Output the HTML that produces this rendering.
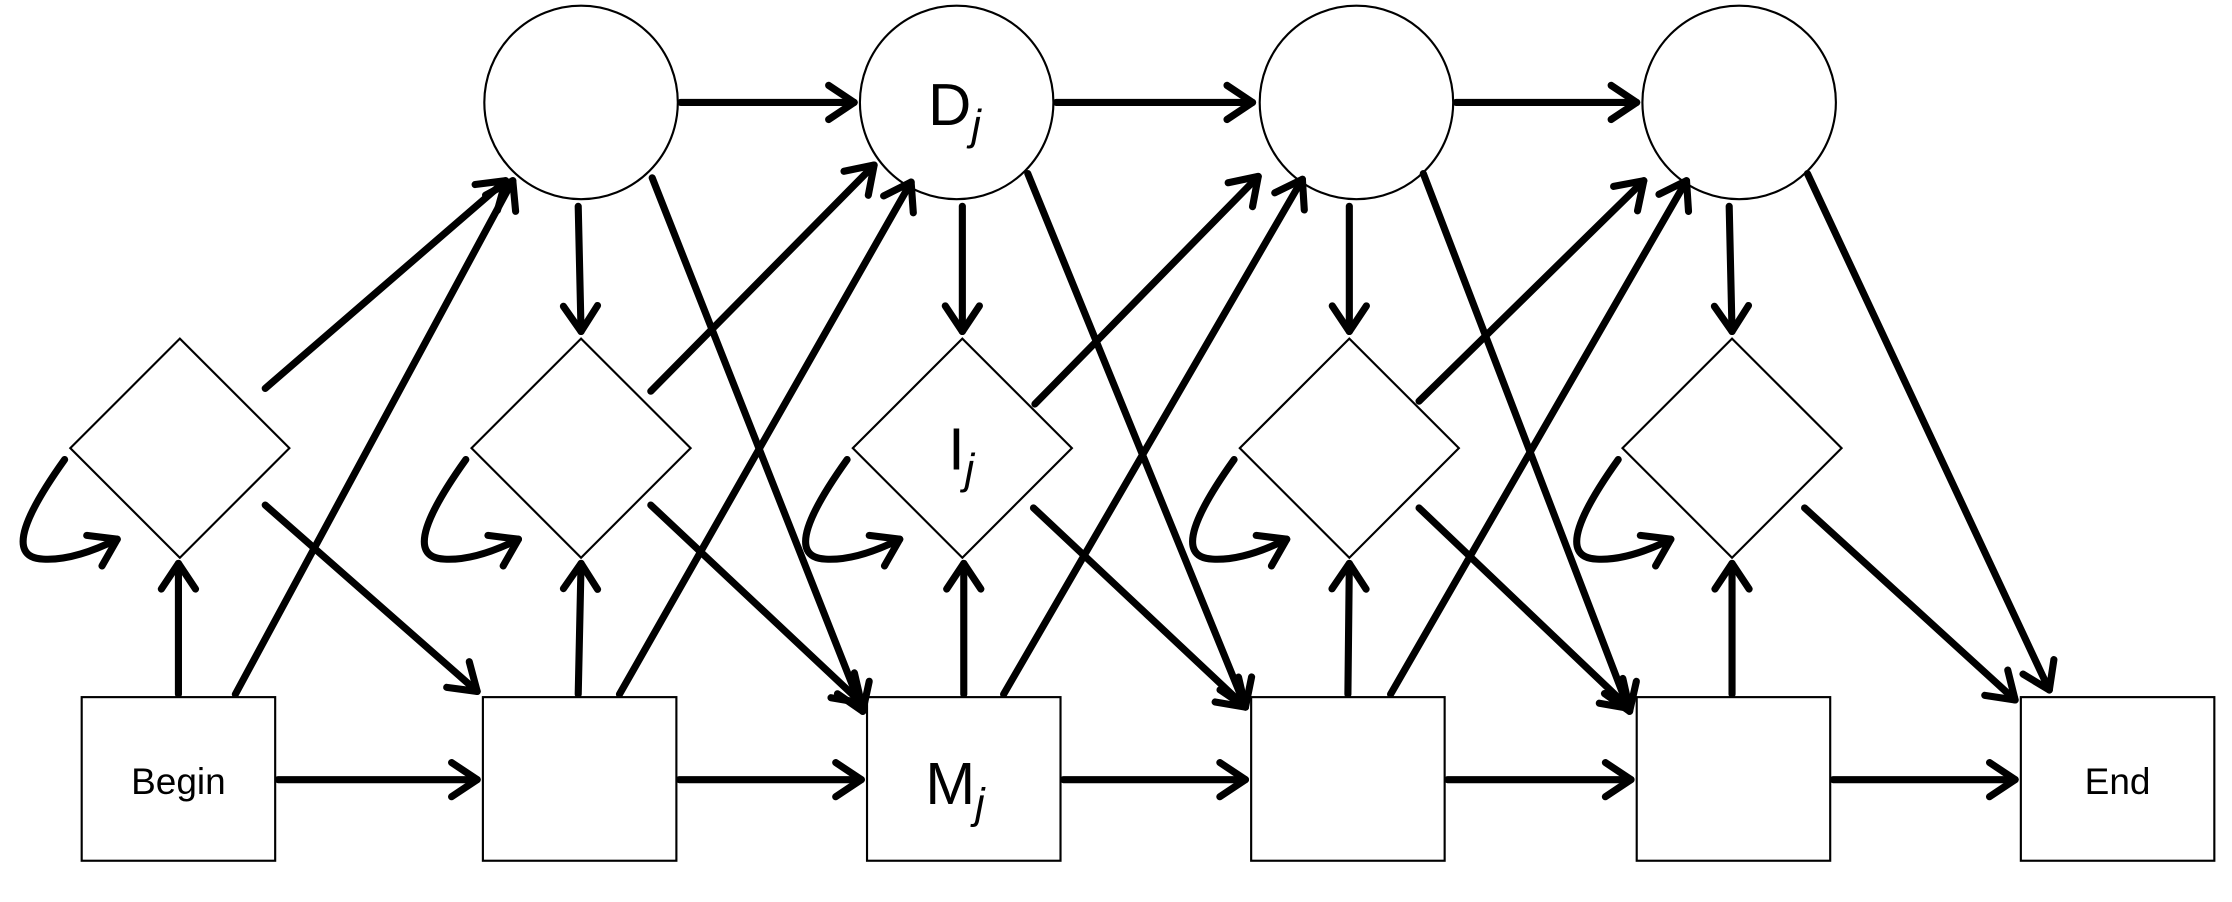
<!DOCTYPE html>
<html><head><meta charset="utf-8"><style>html,body{margin:0;padding:0;background:#fff}svg{display:block}</style></head>
<body>
<svg width="2232" height="902" viewBox="0 0 1568 634" xmlns="http://www.w3.org/2000/svg" font-family="'Liberation Sans', sans-serif">
<defs>
<marker id="a" markerUnits="userSpaceOnUse" viewBox="-24 -16 28 32" markerWidth="28" markerHeight="32" refX="0" refY="0" orient="auto">
<polyline points="-18,-12 0,0 -18,12" fill="none" stroke="#000" stroke-width="5" stroke-linecap="round" stroke-linejoin="round"/>
</marker>
</defs>
<g fill="#fff" stroke="#000" stroke-width="1.5">
<circle cx="408" cy="72" r="68"/><circle cx="672" cy="72" r="68"/><circle cx="953" cy="72" r="68"/><circle cx="1222" cy="72" r="68"/>
<polygon points="126,238 203,315 126,392 49,315"/>
<polygon points="408,238 485,315 408,392 331,315"/>
<polygon points="676,238 753,315 676,392 599,315"/>
<polygon points="948,238 1025,315 948,392 871,315"/>
<polygon points="1217,238 1294,315 1217,392 1140,315"/>
<rect x="57" y="490" width="136" height="115"/><rect x="339" y="490" width="136" height="115"/><rect x="609" y="490" width="136" height="115"/>
<rect x="879" y="490" width="136" height="115"/><rect x="1150" y="490" width="136" height="115"/><rect x="1420" y="490" width="136" height="115"/>
</g>
<g stroke="#000" stroke-width="5" fill="none" stroke-linecap="round" marker-end="url(#a)">
<!-- square to square -->
<line x1="195" y1="548" x2="335" y2="548"/><line x1="477" y1="548" x2="605" y2="548"/><line x1="747" y1="548" x2="875" y2="548"/>
<line x1="1017" y1="548" x2="1146" y2="548"/><line x1="1288" y1="548" x2="1416" y2="548"/>
<!-- square to diamond -->
<line x1="125" y1="488" x2="125" y2="396"/><line x1="406" y1="488" x2="408" y2="396"/><line x1="677" y1="488" x2="677" y2="396"/>
<line x1="947" y1="488" x2="948" y2="396"/><line x1="1217" y1="488" x2="1217" y2="396"/>
<!-- square to circle -->
<line x1="165" y1="488" x2="360" y2="127"/><line x1="435" y1="488" x2="640" y2="128"/><line x1="705" y1="488" x2="915" y2="126"/><line x1="977" y1="488" x2="1185" y2="127"/>
<!-- diamond to next square -->
<line x1="186" y1="355" x2="335" y2="486"/><line x1="457" y1="355" x2="605" y2="494"/><line x1="726" y1="357" x2="875" y2="497"/>
<line x1="997" y1="357" x2="1145" y2="498"/><line x1="1268" y1="357" x2="1416" y2="492"/>
<!-- diamond to circle -->
<line x1="186" y1="273" x2="355" y2="127"/><line x1="457" y1="275" x2="614" y2="116"/><line x1="727" y1="284" x2="884" y2="124"/><line x1="997" y1="282" x2="1155" y2="127"/>
<!-- circle to circle -->
<line x1="478" y1="72" x2="600" y2="72"/><line x1="742" y1="72" x2="880" y2="72"/><line x1="1023" y1="72" x2="1150" y2="72"/>
<!-- circle to diamond -->
<line x1="406" y1="145" x2="408" y2="233"/><line x1="676" y1="145" x2="676" y2="233"/><line x1="948" y1="145" x2="948" y2="233"/><line x1="1215" y1="145" x2="1217" y2="233"/>
<!-- circle to square -->
<line x1="458" y1="125" x2="606" y2="500"/><line x1="722" y1="122" x2="875" y2="497"/><line x1="1000" y1="122" x2="1145" y2="500"/><line x1="1270" y1="122" x2="1440" y2="485"/>
<!-- self loops -->
<path d="M45 323 C 20 358, 2 392, 30 393 C 48 394, 68 386, 82 379"/>
<path d="M327 323 C 302 358, 284 392, 312 393 C 330 394, 350 386, 364 379"/>
<path d="M595 323 C 570 358, 552 392, 580 393 C 598 394, 618 386, 632 379"/>
<path d="M867 323 C 842 358, 824 392, 852 393 C 870 394, 890 386, 904 379"/>
<path d="M1137 323 C 1112 358, 1094 392, 1122 393 C 1140 394, 1160 386, 1174 379"/>
</g>
<g fill="#000">
<text x="125" y="558" font-size="26" text-anchor="middle">Begin</text>
<text x="1488" y="558" font-size="26" text-anchor="middle">End</text>
<text x="652" y="88" font-size="42">D<tspan font-size="30" font-style="italic" dy="10">j</tspan></text>
<text x="666" y="330" font-size="42">I<tspan font-size="30" font-style="italic" dy="10">j</tspan></text>
<text x="650" y="565" font-size="42">M<tspan font-size="30" font-style="italic" dy="10">j</tspan></text>
</g>
</svg>
</body></html>
